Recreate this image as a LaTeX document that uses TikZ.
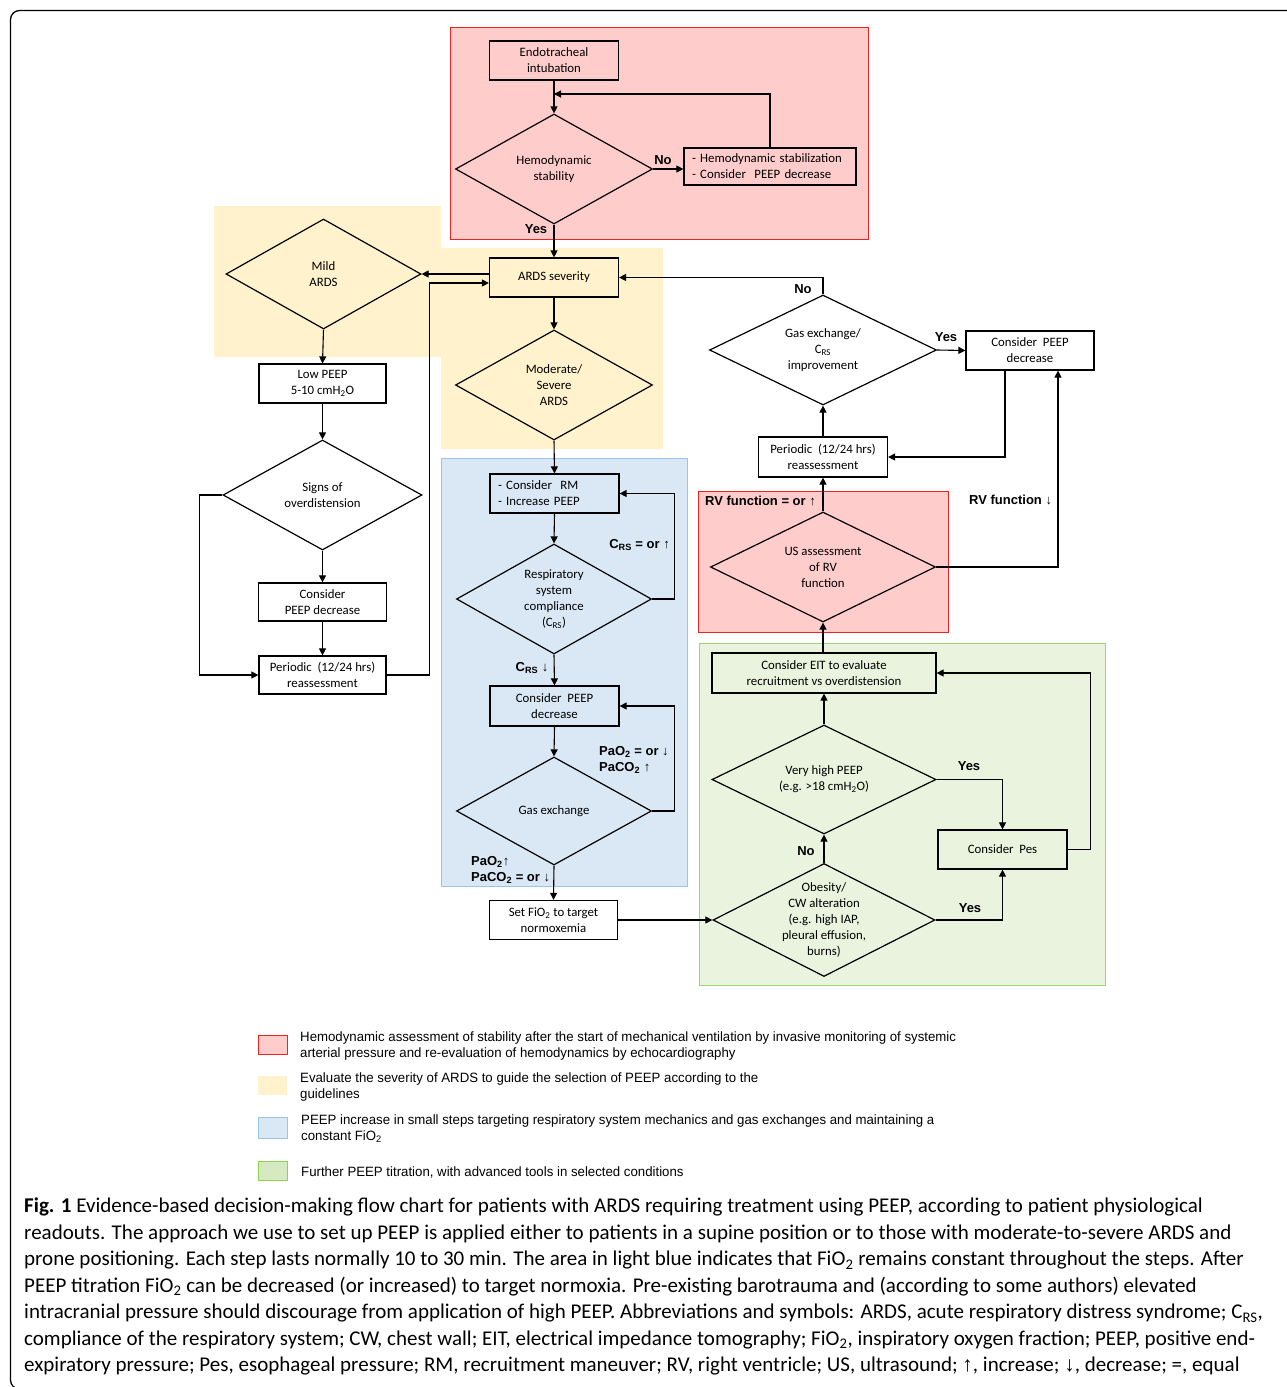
\documentclass[tikz,border=0pt]{standalone}
\usepackage{fontspec}
\setmainfont{Carlito}
\newfontfamily\lblfont{Liberation Sans}
\newfontfamily\legfont{Liberation Sans}[FakeStretch=0.98]
\newfontfamily\capfont{Carlito}
\usetikzlibrary{shapes.geometric,arrows.meta,positioning}

\definecolor{hemored}{RGB}{255,204,204}
\definecolor{hemoline}{RGB}{235,35,35}
\definecolor{ardsyel}{RGB}{255,242,204}
\definecolor{peepblue}{RGB}{218,232,245}
\definecolor{peepline}{RGB}{157,195,230}
\definecolor{titgreen}{RGB}{233,243,222}
\definecolor{titline}{RGB}{160,210,120}
\definecolor{leggreen}{RGB}{214,234,194}
\definecolor{legline}{RGB}{146,208,80}

\tikzset{
  sqbox/.style={ draw, line width=1.2pt, minimum width=129pt, minimum height=39pt, inner sep=1pt, align=center, font=\fontsize{12.8}{16}\selectfont }
}
\tikzset{
  listbox/.style={ sqbox, align=left, inner xsep=8pt }
}
\tikzset{
  diam/.style={ draw, diamond, line width=1.2pt, minimum width=197pt, minimum height=110pt, inner sep=0pt,
    label={[align=center, font=\fontsize{12.8}{16}\selectfont]center:#1} }
}
\tikzset{
  arr/.style={ -{Triangle[length=7pt,width=7pt]}, line width=1.1pt },
  yn/.style={ font=\lblfont\bfseries\fontsize{13}{16}\selectfont, inner sep=0pt, align=left },
  legsq/.style={ minimum width=29pt, minimum height=19pt, inner sep=0pt, line width=1pt },
  legtxt/.style={ anchor=west, align=left, inner sep=0pt, font=\legfont\fontsize{13.5}{16}\selectfont },
  figframe/.style={ line width=1.3pt, rounded corners=9pt }
}

\begin{document}
\begin{tikzpicture}[x=1pt, y=-1pt]
      \useasboundingbox (0,0) rectangle (1287,1387);
      \draw[figframe] (1300,10.5) -- (10.5,10.5) -- (10.5,1389) -- (100,1389);

      % shaded areas
      \fill[ardsyel] (214,206) -- (441,206) -- (441,248) -- (663,248) -- (663,449) -- (441,449) -- (441,357) -- (214,357) -- cycle;
      \draw[hemoline, fill=hemored, line width=1pt] (450,27) rectangle (868,239);
      \draw[peepline, fill=peepblue, line width=1pt] (441,458) rectangle (687,886);
      \draw[hemoline, fill=hemored, line width=1pt] (698,491) rectangle (948,632);
      \draw[titline, fill=titgreen, line width=1pt] (699,643) rectangle (1105,985);

      % hemodynamics
      \node[sqbox] (intub) at (554,60.5) {Endotracheal\\intubation};
      \node[diam={Hemodynamic\\stability}] (hemo) at (554,169) {};
      \node[listbox, text width=156pt, minimum height=37pt] (stab) at (770,166.5) {- Hemodynamic stabilization\\- Consider\ \ PEEP decrease};
      \coordinate (jnA) at (554,94);

      % ARDS severity
      \node[sqbox] (sev) at (554,277.5) {ARDS severity};
      \node[diam={Mild\\ARDS}, minimum width=195pt] (mild) at (323.5,274) {};
      \node[diam={Moderate/\\Severe\\ARDS}] (modsev) at (554,385) {};
      \node[sqbox, minimum width=127pt] (lowpeep) at (322.5,383.5) {Low PEEP\\5-10 cmH\textsubscript{2}O};
      \node[diam={Signs of\\overdistension}, minimum width=199pt] (overd) at (322.5,495) {};
      \node[sqbox, minimum width=128pt, minimum height=38pt] (decL) at (322.5,602) {Consider\\PEEP decrease};
      \node[sqbox, minimum width=127pt, minimum height=38pt] (perL) at (322.5,675) {Periodic\ \ (12/24 hrs)\\reassessment};

      % PEEP increase
      \node[listbox, text width=113pt] (rm) at (554.5,493.5) {- Consider\ \ RM\\- Increase PEEP};
      \node[diam={Respiratory\\system\\compliance\\(C\textsubscript{RS})}, minimum width=195pt] (crs) at (554,599) {};
      \node[sqbox, minimum height=40pt] (decB) at (554.5,706) {Consider\ \ PEEP\\decrease};
      \node[diam={Gas exchange}, minimum width=195pt, minimum height=108pt] (gasx) at (554,811) {};
      \node[sqbox, minimum width=128pt] (fio) at (553.5,920) {Set FiO\textsubscript{2} to target\\normoxemia};

      % further titration
      \node[diam={Obesity/\\CW alteration\\(e.g. high IAP,\\pleural effusion,\\burns)}, minimum width=222pt, minimum height=113pt] (obes) at (824,920) {};
      \node[diam={Very high PEEP\\(e.g. >18 cmH\textsubscript{2}O)}, minimum width=224pt, minimum height=109pt] (vhp) at (824,779.5) {};
      \node[sqbox] (pes) at (1002.5,849.5) {Consider\ \ Pes};
      \node[sqbox, minimum width=224pt, minimum height=40pt] (eit) at (824,673) {Consider EIT to evaluate\\recruitment vs overdistension};
      \node[diam={US assessment\\of RV\\function}, minimum width=225pt] (us) at (823,567) {};
      \node[sqbox, minimum height=40pt] (perR) at (823,457) {Periodic\ \ (12/24 hrs)\\reassessment};
      \node[diam={Gas exchange/\\C\textsubscript{RS}\\improvement}, minimum width=227pt] (gcrs) at (823,350) {};
      \node[sqbox, minimum width=128pt] (decR) at (1030,350.5) {Consider\ \ PEEP\\decrease};

      % connectors
      \draw[arr] (intub.south) -- (hemo.north);
      \draw[arr] (hemo.east) -- (stab.west |- hemo.east);
      \draw[arr] (stab.north) |- (jnA);
      \draw[arr] (hemo.south) -- (sev.north);
      \draw[arr] (sev.west |- mild.east) -- (mild.east);
      \draw[arr] (sev.south) -- (modsev.north);
      \draw[arr] (mild.south) -- (lowpeep.north);
      \draw[arr] (lowpeep.south) -- (overd.north);
      \draw[arr] (overd.south) -- (decL.north);
      \draw[arr] (decL.south) -- (perL.north);
      \draw[arr] (overd.west) -- ++(-23,0) |- (perL.west);
      \draw[arr] (perL.east) -- ++(43,0) |- ([yshift=-5.5pt]sev.west);
      \draw[arr] (modsev.south) -- (rm.north);
      \draw[arr] (rm.south) -- (crs.north);
      \draw[arr] (crs.east) -- ++(22,0) |- (rm.east);
      \draw[arr] (crs.south) -- (decB.north);
      \draw[arr] (decB.south) -- (gasx.north);
      \draw[arr] (gasx.east) -- ++(22,0) |- (decB.east);
      \draw[arr] (gasx.south) -- (fio.north);
      \draw[arr] (fio.east) -- (obes.west);
      \draw[arr] (obes.north) -- (vhp.south);
      \draw[arr] (obes.east) -| (pes.south);
      \draw[arr] (vhp.east) -| (pes.north);
      \draw[arr] (pes.east) -- ++(23,0) |- (eit.east);
      \draw[arr] (vhp.north) -- (eit.south -| vhp.north);
      \draw[arr] (eit.north -| us.south) -- (us.south);
      \draw[arr] (us.north) -- (perR.south);
      \draw[arr] (us.east) -| ([xshift=28pt]decR.south);
      \draw[arr] (perR.north) -- (gcrs.south);
      \draw[arr] (gcrs.east) -- (decR.west);
      \draw[arr] (gcrs.north) |- (sev.east);
      \draw[arr] ([xshift=-25pt]decR.south) |- (perR.east);

      % connector labels
      \node[yn] (noA) at (663,160) {No};
      \node[yn] (yesA) at (536,229) {Yes};
      \node[yn] (noB) at (803,289) {No};
      \node[yn] (yesB) at (946,337) {Yes};
      \node[yn, anchor=east] (crsup) at (670,545) {C\textsubscript{RS} = or ↑};
      \node[yn] (crsdn) at (532,668) {C\textsubscript{RS} ↓};
      \node[yn, anchor=west] (gasup) at (599,760) {PaO\textsubscript{2} = or ↓\\PaCO\textsubscript{2} ↑};
      \node[yn, anchor=west] (gasok) at (471,870) {PaO\textsubscript{2}↑\\PaCO\textsubscript{2} = or ↓};
      \node[yn, anchor=west] (rvok) at (705,501) {RV function = or ↑};
      \node[yn, anchor=west] (rvdn) at (969,500) {RV function ↓};
      \node[yn] (yesC) at (969,766) {Yes};
      \node[yn] (noC) at (806,851) {No};
      \node[yn] (yesD) at (970,908) {Yes};

      % legend
      \node[legsq, draw=hemoline, fill=hemored] (lgA) at (272.5,1044.5) {};
      \node[legtxt] (lgAt) at (300,1046) {Hemodynamic assessment of stability after the start of mechanical ventilation by invasive monitoring of systemic\\arterial pressure and re-evaluation of hemodynamics by echocardiography};
      \node[legsq, fill=ardsyel] (lgB) at (272.5,1085) {};
      \node[legtxt] (lgBt) at (300,1087) {Evaluate the severity of ARDS to guide the selection of PEEP according to the\\guidelines};
      \node[legsq, draw=peepline, fill=peepblue, minimum height=21pt] (lgC) at (272.5,1127.5) {};
      \node[legtxt] (lgCt) at (301,1128.5) {PEEP increase in small steps targeting respiratory system mechanics and gas exchanges and maintaining a\\constant FiO\textsubscript{2}};
      \node[legsq, draw=legline, fill=leggreen] (lgD) at (272.5,1170.5) {};
      \node[legtxt] (lgDt) at (301,1172) {Further PEEP titration, with advanced tools in selected conditions};

      % caption
      \node[anchor=north west, align=left, inner sep=0pt, font=\capfont\fontsize{21}{26.5}\selectfont] (cap) at (24,1198) {\textbf{Fig. 1} Evidence-based decision-making flow chart for patients with ARDS requiring treatment using PEEP, according to patient physiological\\
readouts. The approach we use to set up PEEP is applied either to patients in a supine position or to those with moderate-to-severe ARDS and\\
prone positioning. Each step lasts normally 10 to 30 min. The area in light blue indicates that FiO\textsubscript{2} remains constant throughout the steps. After\\
PEEP titration FiO\textsubscript{2} can be decreased (or increased) to target normoxia. Pre-existing barotrauma and (according to some authors) elevated\\
intracranial pressure should discourage from application of high PEEP. Abbreviations and symbols: ARDS, acute respiratory distress syndrome; C\textsubscript{RS},\\
compliance of the respiratory system; CW, chest wall; EIT, electrical impedance tomography; FiO\textsubscript{2}, inspiratory oxygen fraction; PEEP, positive end-\\
expiratory pressure; Pes, esophageal pressure; RM, recruitment maneuver; RV, right ventricle; US, ultrasound; {\lblfont ↑}, increase; {\lblfont ↓}, decrease; =, equal};
    \end{tikzpicture}
\end{document}
